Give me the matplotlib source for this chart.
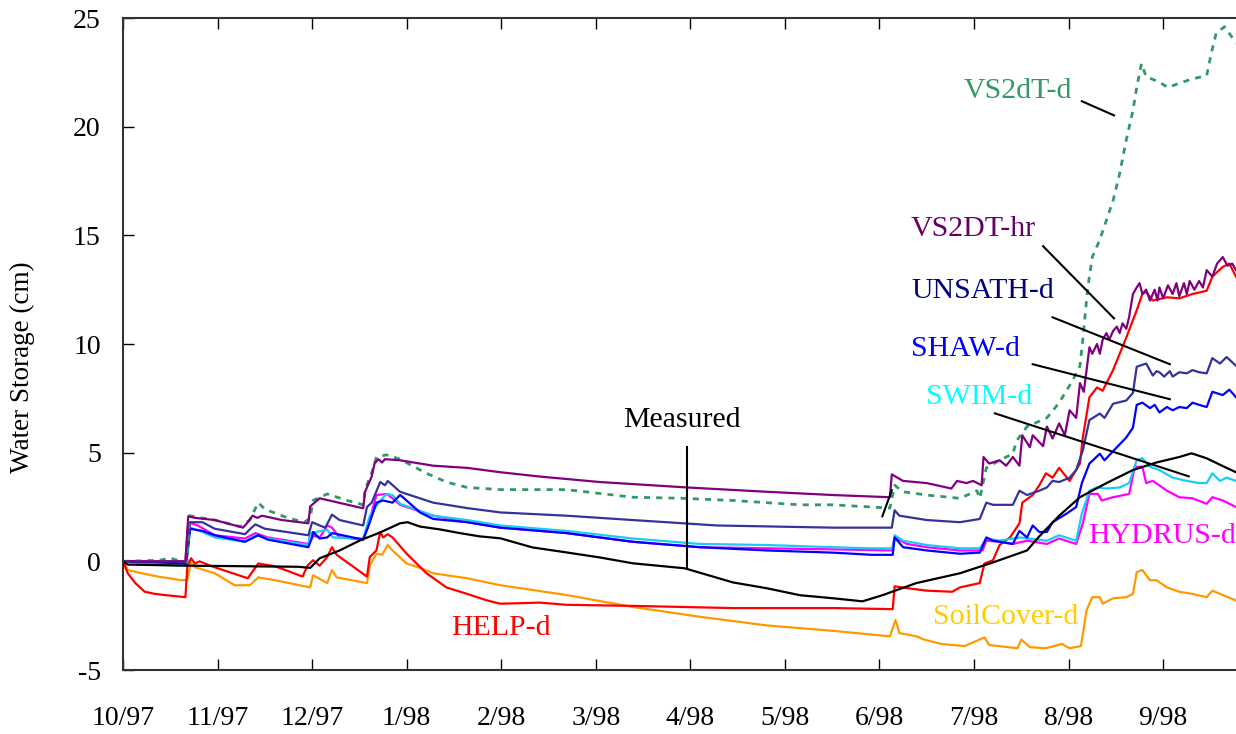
import matplotlib
matplotlib.use('Agg')
import matplotlib.pyplot as plt

# x is in months counted from 10/97 (0 = 10/97, 11 = 9/98)
month_labels = ['10/97', '11/97', '12/97', '1/98', '2/98', '3/98',
                '4/98', '5/98', '6/98', '7/98', '8/98', '9/98']

measured = [(0, 0), (0.05, -0.15), (0.7, -0.2), (1.85, -0.25), (1.98, -0.3), (2.08, 0.14),
            (2.29, 0.5), (2.51, 0.97), (2.72, 1.33), (2.93, 1.75), (3.01, 1.8), (3.14, 1.6),
            (3.35, 1.47), (3.56, 1.3), (3.77, 1.15), (3.99, 1.06), (4.33, 0.64), (4.69, 0.41),
            (5.04, 0.18), (5.39, -0.09), (5.94, -0.32), (6.45, -0.97), (6.81, -1.24),
            (7.16, -1.56), (7.51, -1.7), (7.82, -1.84), (8.03, -1.56), (8.39, -1.0),
            (8.85, -0.55), (9.2, -0.05), (9.56, 0.5), (9.69, 1.15), (9.9, 2.1), (10.12, 2.95),
            (10.4, 3.6), (10.68, 4.2), (10.93, 4.55), (11.17, 4.8), (11.3, 4.97), (11.46, 4.74),
            (11.67, 4.3), (11.77, 4.1)]

vs2dt_hr = [(0, 0), (0.66, 0.0), (0.69, 2.07), (0.76, 2.0), (0.97, 1.9), (1.27, 1.55), (1.32, 1.8),
            (1.37, 2.1), (1.42, 2.0), (1.47, 2.1), (1.68, 1.9), (1.96, 1.75), (1.98, 2.53),
            (2.08, 2.9), (2.54, 2.44), (2.56, 3.2), (2.58, 3.4), (2.63, 3.9), (2.66, 4.5),
            (2.70, 4.7), (2.74, 4.55), (2.77, 4.7), (2.93, 4.65), (3.28, 4.4), (3.64, 4.3),
            (3.99, 4.1), (4.41, 3.9), (5.04, 3.65), (5.96, 3.4), (6.81, 3.2), (7.51, 3.05),
            (8.11, 2.95), (8.13, 4.0), (8.25, 3.7), (8.50, 3.6), (8.76, 3.35), (8.82, 3.7),
            (8.92, 3.6), (8.99, 3.7), (9.08, 3.5), (9.10, 4.8), (9.16, 4.5), (9.27, 4.65),
            (9.34, 4.4), (9.41, 4.8), (9.48, 4.4), (9.51, 5.8), (9.59, 5.25), (9.62, 5.8),
            (9.73, 5.3), (9.77, 6.2), (9.83, 5.65), (9.90, 6.35), (9.96, 5.8), (10.01, 6.95),
            (10.08, 6.6), (10.12, 8.2), (10.16, 7.8), (10.19, 8.8), (10.22, 9.85), (10.25, 9.55),
            (10.30, 10.0), (10.33, 9.55), (10.36, 10.2), (10.40, 10.5), (10.43, 10.2),
            (10.47, 10.6), (10.51, 10.8), (10.54, 10.5), (10.57, 10.95), (10.61, 10.7),
            (10.64, 11.25), (10.68, 12.3), (10.72, 12.6), (10.75, 12.8), (10.78, 12.3),
            (10.82, 12.5), (10.86, 12.0), (10.91, 12.5), (10.94, 12.0), (10.96, 12.6),
            (11.0, 12.1), (11.05, 12.7), (11.10, 12.3), (11.14, 12.8), (11.17, 12.2),
            (11.22, 12.8), (11.25, 12.3), (11.28, 12.9), (11.33, 12.5), (11.38, 12.9),
            (11.42, 12.6), (11.46, 13.4), (11.52, 13.1), (11.57, 13.7), (11.63, 14.0),
            (11.68, 13.6), (11.73, 13.7), (11.77, 13.4)]

vs2dt_d = [(0, 0), (0.39, 0.05), (0.5, 0.15), (0.61, 0.0), (0.68, 0.0), (0.70, 2.1), (0.76, 2.05),
           (0.97, 1.9), (1.24, 1.6), (1.34, 1.9), (1.43, 2.7), (1.50, 2.4), (1.74, 2.0),
           (1.92, 1.8), (1.98, 2.0), (2.01, 2.8), (2.16, 3.1), (2.37, 2.8), (2.54, 2.6),
           (2.56, 3.3), (2.64, 4.2), (2.68, 4.8), (2.79, 4.9), (2.93, 4.7), (3.21, 4.05),
           (3.42, 3.65), (3.64, 3.4), (3.99, 3.3), (4.69, 3.3), (5.39, 2.95), (5.92, 2.9),
           (6.45, 2.8), (7.16, 2.6), (7.51, 2.6), (8.11, 2.45), (8.16, 3.5), (8.25, 3.2),
           (8.50, 3.05), (8.85, 2.9), (9.03, 3.25), (9.06, 2.9), (9.13, 4.3), (9.27, 4.65),
           (9.41, 4.95), (9.45, 5.55), (9.56, 6.2), (9.77, 6.6), (9.90, 7.3), (10.04, 8.3),
           (10.12, 9.0), (10.15, 10.2), (10.20, 12.5), (10.25, 14.0), (10.33, 14.8),
           (10.40, 15.7), (10.47, 16.6), (10.54, 17.85), (10.61, 19.4), (10.68, 20.75),
           (10.72, 21.8), (10.77, 22.9), (10.82, 22.3), (10.96, 22.05), (11.05, 21.8),
           (11.17, 22.0), (11.31, 22.2), (11.46, 22.35), (11.51, 23.4), (11.56, 24.3),
           (11.65, 24.6), (11.77, 23.85)]

unsath_d = [(0, 0), (0.67, 0.0), (0.71, 1.8), (0.84, 1.8), (0.97, 1.5), (1.29, 1.25), (1.36, 1.55),
            (1.40, 1.7), (1.50, 1.5), (1.96, 1.2), (2.0, 1.8), (2.08, 1.65), (2.14, 1.55),
            (2.21, 2.15), (2.29, 1.9), (2.54, 1.65), (2.58, 2.5), (2.63, 2.7), (2.72, 3.65),
            (2.77, 3.5), (2.80, 3.7), (2.93, 3.2), (3.28, 2.7), (3.64, 2.45), (3.99, 2.25),
            (4.69, 2.1), (5.39, 1.9), (6.28, 1.65), (7.51, 1.55), (8.13, 1.55), (8.16, 2.35),
            (8.21, 2.1), (8.50, 1.9), (8.85, 1.8), (9.06, 1.95), (9.13, 2.7), (9.20, 2.6),
            (9.41, 2.6), (9.48, 3.25), (9.56, 3.05), (9.69, 3.25), (9.77, 3.4), (9.83, 3.7),
            (9.90, 3.65), (10.01, 3.85), (10.08, 4.2), (10.15, 5.1), (10.22, 6.5), (10.33, 6.8),
            (10.38, 6.6), (10.47, 7.25), (10.61, 7.4), (10.68, 7.75), (10.72, 8.95), (10.75, 9.0),
            (10.82, 9.1), (10.89, 8.55), (10.93, 8.75), (10.96, 8.7), (11.01, 8.5), (11.07, 8.75),
            (11.10, 8.5), (11.17, 8.7), (11.25, 8.65), (11.31, 8.8), (11.38, 8.7), (11.46, 8.65),
            (11.52, 9.35), (11.60, 9.1), (11.67, 9.4), (11.77, 9.0)]

shaw_d = [(0, 0), (0.67, -0.1), (0.71, 1.5), (0.84, 1.4), (0.97, 1.2), (1.29, 0.9), (1.36, 1.05),
          (1.43, 1.2), (1.53, 1.0), (1.96, 0.65), (2.0, 1.1), (2.01, 1.35), (2.08, 1.05),
          (2.16, 1.1), (2.21, 1.3), (2.54, 1.0), (2.59, 1.55), (2.68, 2.7), (2.75, 2.8),
          (2.85, 2.7), (2.93, 3.05), (2.96, 2.95), (3.14, 2.25), (3.28, 1.95), (3.64, 1.8),
          (3.99, 1.55), (4.69, 1.3), (5.39, 0.9), (6.10, 0.65), (6.81, 0.5), (7.51, 0.4),
          (7.92, 0.3), (8.14, 0.3), (8.16, 1.1), (8.25, 0.65), (8.50, 0.5), (8.85, 0.35),
          (9.06, 0.4), (9.13, 1.1), (9.20, 0.95), (9.41, 0.8), (9.48, 1.4), (9.56, 1.1),
          (9.62, 1.65), (9.69, 1.35), (9.77, 1.35), (9.83, 1.8), (9.98, 2.2), (10.08, 2.5),
          (10.14, 3.6), (10.22, 4.5), (10.33, 4.95), (10.38, 4.65), (10.51, 5.25), (10.61, 5.7),
          (10.68, 6.15), (10.72, 7.2), (10.78, 7.3), (10.86, 7.05), (10.91, 7.2), (10.96, 6.85),
          (11.04, 7.1), (11.10, 6.95), (11.17, 7.1), (11.25, 7.05), (11.31, 7.3), (11.38, 7.2),
          (11.46, 7.1), (11.52, 7.8), (11.63, 7.65), (11.70, 7.9), (11.77, 7.55)]

swim_d = [(0, 0), (0.29, -0.15), (0.66, -0.2), (0.71, 1.55), (0.84, 1.35), (0.97, 1.1), (1.29, 0.9),
          (1.40, 1.2), (1.53, 1.05), (1.96, 0.75), (1.98, 1.3), (2.16, 1.45), (2.22, 1.1),
          (2.54, 1.05), (2.61, 2.1), (2.72, 2.8), (2.79, 3.1), (2.85, 3.05), (2.93, 2.65),
          (3.28, 2.1), (3.64, 1.9), (3.99, 1.65), (4.69, 1.4), (5.39, 1.05), (6.10, 0.8),
          (6.81, 0.75), (7.51, 0.65), (7.90, 0.6), (8.14, 0.6), (8.16, 1.2), (8.25, 0.95),
          (8.50, 0.75), (8.85, 0.6), (9.06, 0.6), (9.13, 1.05), (9.27, 0.95), (9.48, 1.1),
          (9.77, 0.95), (9.90, 1.2), (10.08, 0.95), (10.14, 2.2), (10.22, 3.25), (10.30, 3.4),
          (10.40, 3.35), (10.54, 3.4), (10.64, 3.6), (10.72, 4.65), (10.78, 4.75), (10.86, 4.35),
          (10.96, 4.2), (11.10, 3.85), (11.25, 3.7), (11.38, 3.6), (11.46, 3.6), (11.52, 4.05),
          (11.60, 3.7), (11.67, 3.85), (11.77, 3.7)]

hydrus_d = [(0, 0), (0.66, -0.05), (0.69, 1.8), (0.79, 1.65), (0.97, 1.2), (1.29, 1.05), (1.40, 1.3),
            (1.53, 1.1), (1.96, 0.8), (1.98, 1.2), (2.08, 1.1), (2.16, 1.65), (2.21, 1.55),
            (2.29, 1.1), (2.54, 1.0), (2.61, 1.95), (2.68, 3.05), (2.79, 3.1), (2.85, 2.9),
            (2.93, 2.6), (3.28, 2.1), (3.64, 1.8), (3.99, 1.55), (4.69, 1.3), (5.39, 0.9),
            (6.10, 0.65), (6.81, 0.6), (7.51, 0.55), (8.13, 0.5), (8.16, 1.1), (8.29, 0.8),
            (8.50, 0.65), (8.85, 0.5), (9.09, 0.5), (9.13, 0.95), (9.27, 0.9), (9.41, 0.8),
            (9.56, 0.95), (9.77, 0.8), (9.90, 1.05), (10.08, 0.8), (10.15, 1.75), (10.22, 3.1),
            (10.31, 3.1), (10.35, 2.8), (10.47, 2.95), (10.64, 3.1), (10.70, 4.35), (10.78, 4.35),
            (10.82, 3.6), (10.89, 3.7), (11.04, 3.25), (11.17, 2.95), (11.31, 2.9), (11.46, 2.65),
            (11.52, 2.95), (11.63, 2.8), (11.77, 2.5)]

help_d = [(0, 0), (0.05, -0.55), (0.13, -1.0), (0.23, -1.4), (0.34, -1.5), (0.44, -1.55),
          (0.66, -1.65), (0.68, -0.27), (0.72, 0.14), (0.76, -0.1), (0.81, 0.0), (0.94, -0.23),
          (1.32, -0.78), (1.43, -0.1), (1.61, -0.23), (1.90, -0.7), (1.95, -0.2), (2.01, 0.05),
          (2.08, -0.2), (2.16, 0.2), (2.21, 0.65), (2.26, 0.3), (2.58, -0.7), (2.61, 0.2),
          (2.68, 0.5), (2.72, 1.35), (2.75, 1.1), (2.80, 1.25), (2.85, 1.1), (3.0, 0.35),
          (3.21, -0.55), (3.42, -1.2), (3.64, -1.5), (3.85, -1.8), (3.99, -1.95), (4.41, -1.9),
          (4.69, -2.0), (5.39, -2.05), (6.45, -2.15), (7.51, -2.15), (8.14, -2.2), (8.16, -1.15),
          (8.32, -1.25), (8.50, -1.35), (8.77, -1.4), (8.85, -1.2), (9.06, -1.0), (9.11, -0.1),
          (9.20, 0.05), (9.27, 0.75), (9.38, 1.1), (9.48, 1.75), (9.51, 2.7), (9.62, 3.05),
          (9.69, 3.5), (9.76, 4.05), (9.83, 3.85), (9.90, 4.3), (10.01, 3.7), (10.12, 4.5),
          (10.15, 5.7), (10.22, 7.55), (10.30, 8.0), (10.36, 7.85), (10.47, 8.8), (10.61, 10.3),
          (10.72, 11.55), (10.78, 12.3), (10.82, 12.4), (10.89, 12.0), (11.04, 12.15),
          (11.17, 12.1), (11.31, 12.3), (11.46, 12.45), (11.52, 13.1), (11.63, 13.55),
          (11.70, 13.7), (11.77, 13.1)]

soilcover_d = [(0, 0), (0.05, -0.4), (0.20, -0.55), (0.37, -0.7), (0.62, -0.87), (0.68, -0.85),
               (0.72, -0.05), (0.76, -0.27), (0.97, -0.55), (1.18, -1.1), (1.34, -1.1),
               (1.43, -0.74), (1.61, -0.87), (1.98, -1.2), (2.01, -0.64), (2.16, -1.0),
               (2.21, -0.4), (2.26, -0.74), (2.58, -1.0), (2.61, -0.2), (2.68, 0.35), (2.74, 0.3),
               (2.80, 0.75), (2.85, 0.5), (3.0, -0.1), (3.14, -0.3), (3.28, -0.55), (3.64, -0.78),
               (3.99, -1.1), (4.69, -1.55), (5.39, -2.1), (6.10, -2.55), (6.81, -2.95),
               (7.51, -3.2), (8.11, -3.45), (8.17, -2.7), (8.21, -3.3), (8.39, -3.45),
               (8.47, -3.6), (8.65, -3.8), (8.90, -3.9), (9.11, -3.5), (9.16, -3.85), (9.46, -4.0),
               (9.50, -3.6), (9.59, -3.95), (9.76, -4.0), (9.93, -3.8), (10.01, -4.0),
               (10.13, -3.9), (10.19, -2.25), (10.25, -1.65), (10.33, -1.65), (10.36, -1.95),
               (10.47, -1.7), (10.61, -1.65), (10.68, -1.5), (10.72, -0.5), (10.78, -0.4),
               (10.86, -0.87), (10.93, -0.87), (11.04, -1.2), (11.17, -1.4), (11.31, -1.5),
               (11.46, -1.65), (11.52, -1.35), (11.63, -1.55), (11.77, -1.8)]

# label text, position (month, cm), colour
labels = [('VS2dT-d', 9.46, 21.63, '#339966'),
          ('VS2DT-hr', 8.99, 15.28, '#660066'),
          ('UNSATH-d', 9.09, 12.42, '#000080'),
          ('SHAW-d', 8.91, 9.76, '#0000FF'),
          ('SWIM-d', 9.05, 7.55, '#00FFFF'),
          ('Measured', 5.91, 6.49, 'black'),
          ('HYDRUS-d', 10.99, 1.15, '#FF00FF'),
          ('SoilCover-d', 9.33, -2.58, '#FFCC00'),
          ('HELP-d', 4.0, -3.08, '#FF0000')]

# leader lines ((x0, x1), (y0, y1))
leaders = [((10.14, 10.48), (21.17, 20.52)),
           ((9.73, 10.48), (14.5, 11.18)),
           ((9.83, 11.07), (11.23, 9.07)),
           ((9.62, 11.07), (9.07, 7.46)),
           ((9.22, 11.27), (6.81, 3.91)),
           ((5.96, 5.96), (5.25, -0.28)),
           ((8.03, 8.13), (2.07, 3.27))]

plt.rcParams['font.family'] = ['Liberation Serif', 'DejaVu Serif']
plt.rcParams['axes.unicode_minus'] = False

fig = plt.figure(figsize=(12.36, 7.34), dpi=100)
ax = fig.add_axes([123/1236, 1 - 670/734, 1 - 123/1236, (670 - 18)/734])

def draw(series, color, lw=1.6, **kw):
    xs, ys = zip(*series)
    ax.plot(xs, ys, color=color, lw=lw, **kw)

draw(soilcover_d, '#FF9900')
draw(help_d, '#FF0000')
draw(hydrus_d, '#FF00FF')
draw(swim_d, '#19CCF5')
draw(shaw_d, '#0000FF')
draw(unsath_d, '#333399')
draw(vs2dt_d, '#339966', lw=2.0, linestyle=(0, (2.2, 2.2)))
draw(vs2dt_hr, '#800080')
draw(measured, 'black')

for (x0, x1), (y0, y1) in leaders:
    ax.plot([x0, x1], [y0, y1], color='black', lw=1.5)

for text, x, y, c in labels:
    ax.text(x, y, text, color=c, fontsize=21.5, ha='center', va='center', clip_on=False)

ax.set_xlim(0, 11.77)
ax.set_ylim(-5, 25)
ax.set_xticks(range(12))
ax.set_xticklabels(month_labels)
ax.set_yticks(range(-5, 26, 5))

ax.spines['right'].set_visible(False)
for s in ['left', 'bottom', 'top']:
    ax.spines[s].set_linewidth(1.5)
    ax.spines[s].set_color('#333333')

ax.tick_params(axis='x', direction='in', top=True, length=8, width=1, labelsize=20, pad=26)
ax.tick_params(axis='y', direction='in', length=8, width=1, labelsize=20, pad=16)

fig.text(22/1236, 0.5, 'Water Storage (cm)', rotation=90, ha='center', va='center', fontsize=19.5)

fig.savefig('out.png', dpi=100)
